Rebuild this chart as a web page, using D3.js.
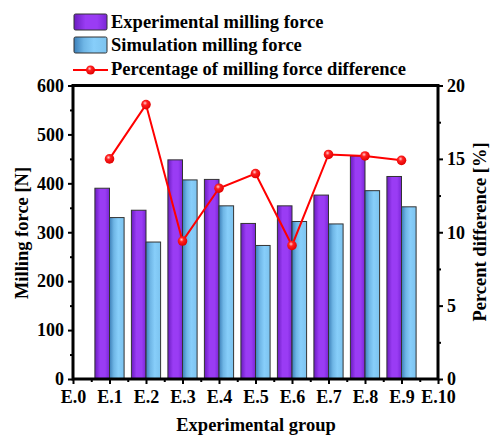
<!DOCTYPE html>
<html><head><meta charset="utf-8">
<script src="https://cdn.jsdelivr.net/npm/d3@7"></script>
</head><body style="margin:0"><svg id="c" width="490" height="438" font-family="Liberation Serif" font-weight="bold"></svg>
<script>
const groups = ["E.1","E.2","E.3","E.4","E.5","E.6","E.7","E.8","E.9"];
const tickLabels = ["E.0","E.1","E.2","E.3","E.4","E.5","E.6","E.7","E.8","E.9","E.10"];
const experimental = [390,345,448,408,318,354,376,456,414];
const simulation = [330,280,407,354,273,322,317,385,352];
const percentDiff = [15.0,18.7,9.4,13.0,14.0,9.1,15.3,15.2,14.9];
const seriesNames = ["Experimental milling force","Simulation milling force","Percentage of milling force difference"];

const svg = d3.select("#c");
const L=73,R=438,T=85.5,B=379;
const x = d3.scaleLinear().domain([0,10]).range([L,R]);
const y = d3.scaleLinear().domain([0,600]).range([B,T]);
const y2 = d3.scaleLinear().domain([0,20]).range([B,T]);
const step = x(1)-x(0), bw = step*0.4;

const defs = svg.append("defs");
function grad(id, stops){
  const g = defs.append("linearGradient").attr("id",id).attr("x1","0").attr("x2","1").attr("y1","0").attr("y2","0");
  stops.forEach(s=>g.append("stop").attr("offset",s[0]).attr("stop-color",s[1]));
}
grad("gp",[[0,"#6a1cc0"],[0.35,"#9a3cf4"],[0.7,"#9a3cf4"],[1,"#7a26d6"]]);
grad("gb",[[0,"#3c7fb8"],[0.3,"#6fb6e6"],[0.6,"#87cefa"],[1,"#7cc3ef"]]);
const rg = defs.append("radialGradient").attr("id","gr").attr("cx","0.4").attr("cy","0.35").attr("r","0.65");
rg.append("stop").attr("offset",0).attr("stop-color","#ffd0d0");
rg.append("stop").attr("offset",0.35).attr("stop-color","#ff2020");
rg.append("stop").attr("offset",1).attr("stop-color","#e00000");

const gi = groups.map((g,i)=>i+1);
svg.append("g").selectAll("rect").data(experimental).join("rect")
  .attr("x",(d,i)=>x(gi[i])-bw).attr("y",d=>y(d)).attr("width",bw).attr("height",d=>B-y(d))
  .attr("fill","url(#gp)").attr("stroke","#333").attr("stroke-width",1);
svg.append("g").selectAll("rect").data(simulation).join("rect")
  .attr("x",(d,i)=>x(gi[i])).attr("y",d=>y(d)).attr("width",bw).attr("height",d=>B-y(d))
  .attr("fill","url(#gb)").attr("stroke","#333").attr("stroke-width",1);

const line = d3.line().x((d,i)=>x(gi[i])).y(d=>y2(d));
svg.append("path").datum(percentDiff).attr("d",line).attr("fill","none").attr("stroke","#f00").attr("stroke-width",2);
svg.append("g").selectAll("circle").data(percentDiff).join("circle")
  .attr("cx",(d,i)=>x(gi[i])).attr("cy",d=>y2(d)).attr("r",4.8).attr("fill","url(#gr)");

function styleAxis(g){
  g.attr("font-family",null).attr("font-size",null);
  g.selectAll(".domain").remove();
  g.selectAll("text").style("font-family","Liberation Serif").style("font-weight","bold").style("font-size","18px").attr("fill","#000");
}
svg.append("g").attr("transform",`translate(${L},0)`).call(d3.axisLeft(y).tickValues(d3.range(0,601,50)).tickSize(0).tickFormat(""))
  .call(g=>{g.selectAll(".domain").remove(); g.selectAll(".tick line").attr("x2",d=>d%100===0?-5:-3).attr("stroke","#000").attr("stroke-width",2);});
svg.append("g").attr("transform",`translate(${L},0)`).call(d3.axisLeft(y).tickValues(d3.range(0,601,100)).tickSize(0).tickPadding(9)).call(styleAxis);
svg.append("g").attr("transform",`translate(${R},0)`).call(d3.axisRight(y2).tickValues(d3.range(0,20.1,2.5)).tickSize(0).tickFormat(""))
  .call(g=>{g.selectAll(".domain").remove(); g.selectAll(".tick line").attr("x2",d=>d%5===0?5:3).attr("stroke","#000").attr("stroke-width",2);});
svg.append("g").attr("transform",`translate(${R},0)`).call(d3.axisRight(y2).tickValues([0,5,10,15,20]).tickSize(0).tickPadding(9)).call(styleAxis);
svg.append("g").attr("transform",`translate(0,${B})`).call(d3.axisBottom(x).tickValues(d3.range(0,10.01,0.5)).tickSize(0).tickFormat(""))
  .call(g=>{g.selectAll(".domain").remove(); g.selectAll(".tick line").attr("y2",d=>Math.abs(d-Math.round(d))<1e-6?5:3).attr("stroke","#000").attr("stroke-width",2);});
svg.append("g").attr("transform",`translate(0,${B})`).call(d3.axisBottom(x).tickValues(d3.range(0,11)).tickFormat(d=>tickLabels[d]).tickSize(0).tickPadding(11)).call(styleAxis);

svg.append("rect").attr("x",L).attr("y",T).attr("width",R-L).attr("height",B-T).attr("fill","none").attr("stroke","#000").attr("stroke-width",3);

function txt(sel){ return sel.style("font-family","Liberation Serif").style("font-weight","bold"); }
txt(svg.append("text")).attr("x",256).attr("y",431).attr("text-anchor","middle").style("font-size","18.5px").text("Experimental group");
txt(svg.append("text")).attr("transform","translate(28,233) rotate(-90)").attr("text-anchor","middle").style("font-size","18.5px").text("Milling force [N]");
txt(svg.append("text")).attr("transform","translate(486,232) rotate(-90)").attr("text-anchor","middle").style("font-size","18.5px").text("Percent difference [%]");

const lg = svg.append("g");
lg.append("rect").attr("x",74).attr("y",14).attr("width",33).attr("height",16).attr("rx",1.5).attr("fill","url(#gp)").attr("stroke","#333");
lg.append("rect").attr("x",74).attr("y",37).attr("width",33).attr("height",16).attr("rx",1.5).attr("fill","url(#gb)").attr("stroke","#333");
lg.append("line").attr("x1",73).attr("x2",108).attr("y1",70).attr("y2",70).attr("stroke","#f00").attr("stroke-width",2);
lg.append("circle").attr("cx",90.5).attr("cy",70).attr("r",4.5).attr("fill","url(#gr)");
seriesNames.forEach((s,i)=>txt(lg.append("text")).attr("x",111).attr("y",[28,51,75][i]).style("font-size","18.5px").text(s));
</script></body></html>
